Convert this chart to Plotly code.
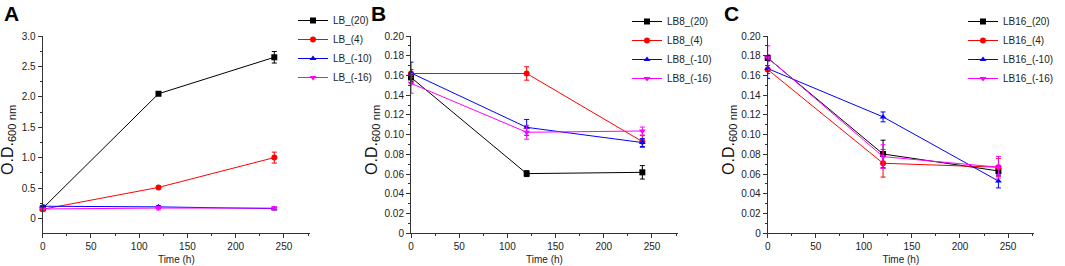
import plotly.graph_objects as go

time = [0, 120, 240]

# Panel A
a_names = ["LB_(20)", "LB_(4)", "LB_(-10)", "LB_(-16)"]
a_20 = [0.165, 2.05, 2.65]
a_20_err = [0.02, 0.02, 0.095]
a_4 = [0.15, 0.51, 1.0]
a_4_err = [0.01, 0.02, 0.09]
a_m10 = [0.2, 0.19, 0.16]
a_m10_err = [0.02, 0.02, 0.02]
a_m16 = [0.155, 0.17, 0.17]
a_m16_err = [0.01, 0.03, 0.02]

# Panel B
b_names = ["LB8_(20)", "LB8_(4)", "LB8_(-10)", "LB8_(-16)"]
b_20 = [0.158, 0.0605, 0.0618]
b_20_err = [0.004, 0.003, 0.0068]
b_4 = [0.162, 0.162, 0.093]
b_4_err = [0.004, 0.0068, 0.006]
b_m10 = [0.1625, 0.1074, 0.092]
b_m10_err = [0.011, 0.008, 0.004]
b_m16 = [0.152, 0.1024, 0.1037]
b_m16_err = [0.01, 0.007, 0.004]

# Panel C
c_names = ["LB16_(20)", "LB16_(4)", "LB16_(-10)", "LB16_(-16)"]
c_20 = [0.1777, 0.0804, 0.0632]
c_20_err = [0.003, 0.014, 0.005]
c_4 = [0.166, 0.071, 0.067]
c_4_err = [0.004, 0.014, 0.009]
c_m10 = [0.167, 0.118, 0.053]
c_m10_err = [0.01, 0.005, 0.007]
c_m16 = [0.178, 0.0777, 0.067]
c_m16_err = [0.012, 0.012, 0.011]

a_ticks = [0, 0.5, 1.0, 1.5, 2.0, 2.5, 3.0]
a_ticktext = ["0", "0.5", "1.0", "1.5", "2.0", "2.5", "3.0"]
bc_ticks = [0, 0.02, 0.04, 0.06, 0.08, 0.10, 0.12, 0.14, 0.16, 0.18, 0.20]
bc_ticktext = ["0", "0.02", "0.04", "0.06", "0.08", "0.10", "0.12", "0.14", "0.16", "0.18", "0.20"]
x_ticks = [0, 50, 100, 150, 200, 250]

colors = ["#000000", "#FF0000", "#0000FF", "#FF00FF"]
symbols = ["square", "circle", "triangle-up", "triangle-down"]

FONT = "Arial, Liberation Sans, sans-serif"
W, H = 1065, 266

fig = go.Figure()

panels = [
    ("x", "y", "legend", a_names, [(a_20, a_20_err), (a_4, a_4_err), (a_m10, a_m10_err), (a_m16, a_m16_err)]),
    ("x2", "y2", "legend2", b_names, [(b_20, b_20_err), (b_4, b_4_err), (b_m10, b_m10_err), (b_m16, b_m16_err)]),
    ("x3", "y3", "legend3", c_names, [(c_20, c_20_err), (c_4, c_4_err), (c_m10, c_m10_err), (c_m16, c_m16_err)]),
]

for xa, ya, lg, names, series in panels:
    for i, (vals, errs) in enumerate(series):
        fig.add_trace(go.Scatter(
            x=time, y=vals, name=names[i], mode="lines+markers",
            xaxis=xa, yaxis=ya, legend=lg, cliponaxis=False,
            line=dict(color=colors[i], width=1),
            marker=dict(symbol=symbols[i], color=colors[i], size=6),
            error_y=dict(type="data", array=errs, visible=True, color=colors[i],
                         thickness=1, width=2.5),
        ))

# pixel geometry -> paper fractions
def px(x):
    return x / W

def py(y):
    return 1 - y / H

ydom = [py(233.3), py(36)]
xdoms = [[px(42.7), px(310)], [px(411), px(678)], [px(767.7), px(1034)]]

axis_common = dict(
    automargin=False,
    showline=True, linecolor="#333333", linewidth=1, showgrid=False, zeroline=False,
    ticks="outside", ticklen=4, tickcolor="#333333", tickwidth=1,
    tickfont=dict(family=FONT, size=10, color="#222222"),
)

xaxis_cfg = dict(axis_common, range=[0, 277], tickmode="array", tickvals=x_ticks,
                 minor=dict(tickmode="linear", tick0=0, dtick=25, ticks="outside", ticklen=2,
                            tickcolor="#333333"),
                 title=dict(text="Time (h)", font=dict(family=FONT, size=10, color="#222222"), standoff=4))

layout = dict(
    template="none",
    width=W, height=H, margin=dict(l=0, r=0, t=0, b=0, pad=0),
    paper_bgcolor="white", plot_bgcolor="white",
    font=dict(family=FONT, color="#222222"),
    showlegend=True,
)
for k, (xa, ya) in enumerate([("xaxis", "yaxis"), ("xaxis2", "yaxis2"), ("xaxis3", "yaxis3")]):
    anchor_y = "y" if k == 0 else f"y{k+1}"
    anchor_x = "x" if k == 0 else f"x{k+1}"
    layout[xa] = dict(xaxis_cfg, domain=xdoms[k], anchor=anchor_y)
    if k == 0:
        layout[ya] = dict(axis_common, domain=ydom, anchor=anchor_x, range=[-0.245, 3.0],
                          tickmode="array", tickvals=a_ticks, ticktext=a_ticktext,
                          minor=dict(tickmode="linear", tick0=0, dtick=0.25, ticks="outside",
                                     ticklen=2, tickcolor="#333333"))
    else:
        layout[ya] = dict(axis_common, domain=ydom, anchor=anchor_x, range=[0, 0.2],
                          tickmode="array", tickvals=bc_ticks, ticktext=bc_ticktext,
                          minor=dict(tickmode="linear", tick0=0, dtick=0.01, ticks="outside",
                                     ticklen=2, tickcolor="#333333"))

legend_common = dict(font=dict(family=FONT, size=10, color="#222222"), bgcolor="rgba(0,0,0,0)",
                     xanchor="left", yanchor="top", itemwidth=30, tracegroupgap=0, borderwidth=0)
layout["legend"] = dict(legend_common, x=px(293), y=py(6))
layout["legend2"] = dict(legend_common, x=px(627), y=py(7))
layout["legend3"] = dict(legend_common, x=px(963), y=py(7))

fig.update_layout(**layout)

# panel letters
for letter, xpx in [("A", 2), ("B", 369), ("C", 722)]:
    fig.add_annotation(text=f"<b>{letter}</b>", xref="paper", yref="paper", x=px(xpx), y=1.0,
                       xanchor="left", yanchor="top", showarrow=False,
                       font=dict(family=FONT, size=21, color="#000000"))

# y-axis titles
for xpx in [8, 372, 729]:
    fig.add_annotation(text="O.D.<sub>600 nm</sub>", xref="paper", yref="paper", x=px(xpx), y=py(140),
                       xanchor="center", yanchor="middle", textangle=-90, showarrow=False,
                       font=dict(family=FONT, size=16, color="#111111"))

post = ("document.body.style.margin='0';document.body.style.padding='0';"
        "document.documentElement.style.overflow='hidden';")

fig.write_html("out.html", config={"displayModeBar": False}, post_script=post)
